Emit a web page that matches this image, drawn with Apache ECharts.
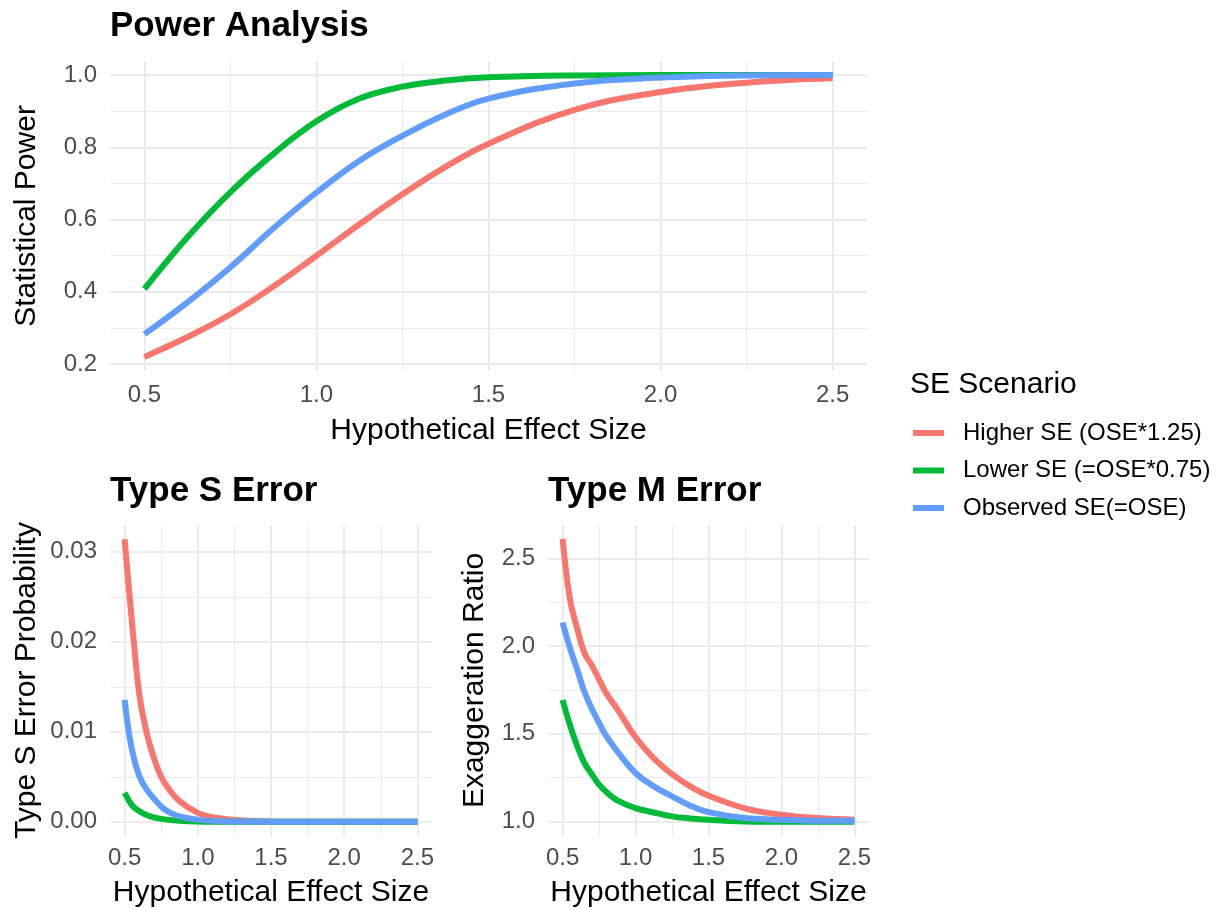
<!DOCTYPE html>
<html>
<head>
<meta charset="utf-8">
<script src="https://cdn.jsdelivr.net/npm/echarts@6/dist/echarts.min.js"></script>
<style>
  html, body { margin: 0; padding: 0; background: #fff; }
  #main { width: 1217px; height: 910px; }
</style>
</head>
<body>
<div id="main"></div>
<script>
var FONT = "'Liberation Sans', Arial, sans-serif";
var scenarios = ["Higher SE (OSE*1.25)", "Lower SE (=OSE*0.75)", "Observed SE(=OSE)"];
var colors = ["#F8766D", "#00BA38", "#619CFF"];

// power panel
var effectPower = [0.5, 0.625, 0.75, 0.875, 1.0, 1.125, 1.25, 1.375, 1.5, 1.75, 2.0, 2.25, 2.5];
var powerHigher = [0.22, 0.275, 0.338, 0.415, 0.5, 0.587, 0.67, 0.746, 0.81, 0.904, 0.953, 0.979, 0.991];
var powerLower = [0.408, 0.551, 0.676, 0.782, 0.872, 0.935, 0.968, 0.985, 0.994, 0.999, 1.0, 1.0, 1.0];
var powerObserved = [0.283, 0.371, 0.468, 0.576, 0.675, 0.763, 0.832, 0.891, 0.935, 0.977, 0.993, 0.999, 1.0];

// type S panel
var effectS = [0.5, 0.53, 0.56, 0.6, 0.65, 0.7, 0.75, 0.8, 0.875, 1.0, 1.125, 1.25, 1.5, 1.75, 2.0, 2.5];
var typeSHigher = [0.0314, 0.0257, 0.0205, 0.0142, 0.0099, 0.0071, 0.0050, 0.0037, 0.0023, 0.0010, 0.00045, 0.0002, 0.00004, 0.00001, 0, 0];
var typeSLower = [0.00323, 0.00234, 0.00167, 0.0012, 0.00075, 0.0005, 0.00033, 0.00022, 0.00012, 0.00004, 0.00001, 0, 0, 0, 0, 0];
var typeSObserved = [0.01355, 0.0098, 0.0073, 0.0051, 0.0036, 0.0026, 0.0017, 0.0011, 0.0006, 0.00025, 0.0001, 0.00004, 0.00001, 0, 0, 0];

// type M panel
var effectM = [0.5, 0.55, 0.6, 0.65, 0.7, 0.75, 0.8, 0.875, 1.0, 1.125, 1.25, 1.375, 1.5, 1.75, 2.0, 2.25, 2.5];
var typeMHigher = [2.61, 2.27, 2.10, 1.96, 1.89, 1.81, 1.73, 1.64, 1.48, 1.36, 1.27, 1.20, 1.147, 1.075, 1.038, 1.019, 1.01];
var typeMLower = [1.692, 1.55, 1.43, 1.333, 1.27, 1.21, 1.168, 1.12, 1.076, 1.051, 1.029, 1.017, 1.009, 1.0, 0.998, 0.998, 0.998];
var typeMObserved = [2.134, 1.99, 1.867, 1.738, 1.643, 1.562, 1.486, 1.40, 1.276, 1.2, 1.143, 1.09, 1.053, 1.019, 1.01, 1.004, 1.004];

// ticks
var effectTicks = [0.5, 1.0, 1.5, 2.0, 2.5];
var effectMinor = [0.75, 1.25, 1.75, 2.25];
var powerTicks = [0.2, 0.4, 0.6, 0.8, 1.0];
var powerMinor = [0.3, 0.5, 0.7, 0.9];
var typeSTicks = [0, 0.01, 0.02, 0.03];
var typeSMinor = [0.005, 0.015, 0.025];
var typeMTicks = [1.0, 1.5, 2.0, 2.5];
var typeMMinor = [1.25, 1.75, 2.25];

function pairs(xs, ys) {
  return xs.map(function (x, i) { return [x, ys[i]]; });
}

function axes(isY, grid, min, max, majors, minors, digits, name, nameGap, margin) {
  var major = {
    type: "value", gridIndex: grid, min: min, max: max,
    position: isY ? "left" : "bottom",
    name: name, nameLocation: "middle", nameGap: nameGap,
    nameTextStyle: { fontSize: 30, color: "#000", fontFamily: FONT },
    axisLine: { show: false },
    axisTick: { show: false, customValues: majors },
    axisLabel: {
      customValues: majors, fontSize: 24, color: "#4d4d4d", fontFamily: FONT, margin: margin,
      formatter: function (v) { return v.toFixed(digits); }
    },
    splitLine: { show: true, lineStyle: { color: "#ebebeb", width: 2 } }
  };
  if (isY) major.nameRotate = 90;
  var minor = {
    type: "value", gridIndex: grid, min: min, max: max,
    position: isY ? "left" : "bottom",
    axisLine: { show: false },
    axisTick: { show: false, customValues: minors },
    axisLabel: { show: false, customValues: minors },
    splitLine: { show: true, lineStyle: { color: "#ebebeb", width: 1 } }
  };
  return [major, minor];
}

var xAxes = []
  .concat(axes(false, 0, 0.4, 2.6, effectTicks, effectMinor, 1, "Hypothetical Effect Size", 45, 12))
  .concat(axes(false, 1, 0.4, 2.6, effectTicks, effectMinor, 1, "Hypothetical Effect Size", 42, 10))
  .concat(axes(false, 2, 0.4, 2.6, effectTicks, effectMinor, 1, "Hypothetical Effect Size", 42, 10));
var yAxes = []
  .concat(axes(true, 0, 0.181, 1.039, powerTicks, powerMinor, 1, "Statistical Power", 68, 13))
  .concat(axes(true, 1, -0.00157, 0.03297, typeSTicks, typeSMinor, 2, "Type S Error Probability", 68, 13))
  .concat(axes(true, 2, 0.917, 2.69, typeMTicks, typeMMinor, 1, "Exaggeration Ratio", 58, 13));

var panels = [
  [effectPower, [powerHigher, powerLower, powerObserved]],
  [effectS, [typeSHigher, typeSLower, typeSObserved]],
  [effectM, [typeMHigher, typeMLower, typeMObserved]]
];
var series = [];
panels.forEach(function (p, g) {
  p[1].forEach(function (ys, k) {
    series.push({
      name: scenarios[k], type: "line", xAxisIndex: g * 2, yAxisIndex: g * 2,
      data: pairs(p[0], ys), smooth: 0.4,
      showSymbol: false, color: colors[k],
      lineStyle: { color: colors[k], width: 6 }
    });
  });
});

var chart = echarts.init(document.getElementById("main"));
chart.setOption({
  backgroundColor: "#fff",
  animation: false,
  textStyle: { fontFamily: FONT },
  title: [
    { text: "Power Analysis", left: 110, top: 9, padding: 0, textStyle: { fontSize: 35, fontWeight: "bold", color: "#000", fontFamily: FONT } },
    { text: "Type S Error", left: 110, top: 474, padding: 0, textStyle: { fontSize: 35, fontWeight: "bold", color: "#000", fontFamily: FONT } },
    { text: "Type M Error", left: 548, top: 474, padding: 0, textStyle: { fontSize: 35, fontWeight: "bold", color: "#000", fontFamily: FONT } },
    { text: "SE Scenario", left: 910, top: 370, padding: 0, textStyle: { fontSize: 30, fontWeight: "normal", color: "#000", fontFamily: FONT } }
  ],
  legend: {
    data: scenarios, orient: "vertical", left: 913, top: 419, padding: 0,
    icon: "rect", itemWidth: 31, itemHeight: 6, itemGap: 9.5,
    textStyle: { fontSize: 24, color: "#000", fontFamily: FONT, lineHeight: 28, padding: [0, 0, 0, 14] }
  },
  grid: [
    { left: 110, top: 61, width: 757, height: 310 },
    { left: 110, top: 525, width: 322, height: 311 },
    { left: 548, top: 525, width: 321, height: 311 }
  ],
  xAxis: xAxes,
  yAxis: yAxes,
  series: series
});
</script>
</body>
</html>
